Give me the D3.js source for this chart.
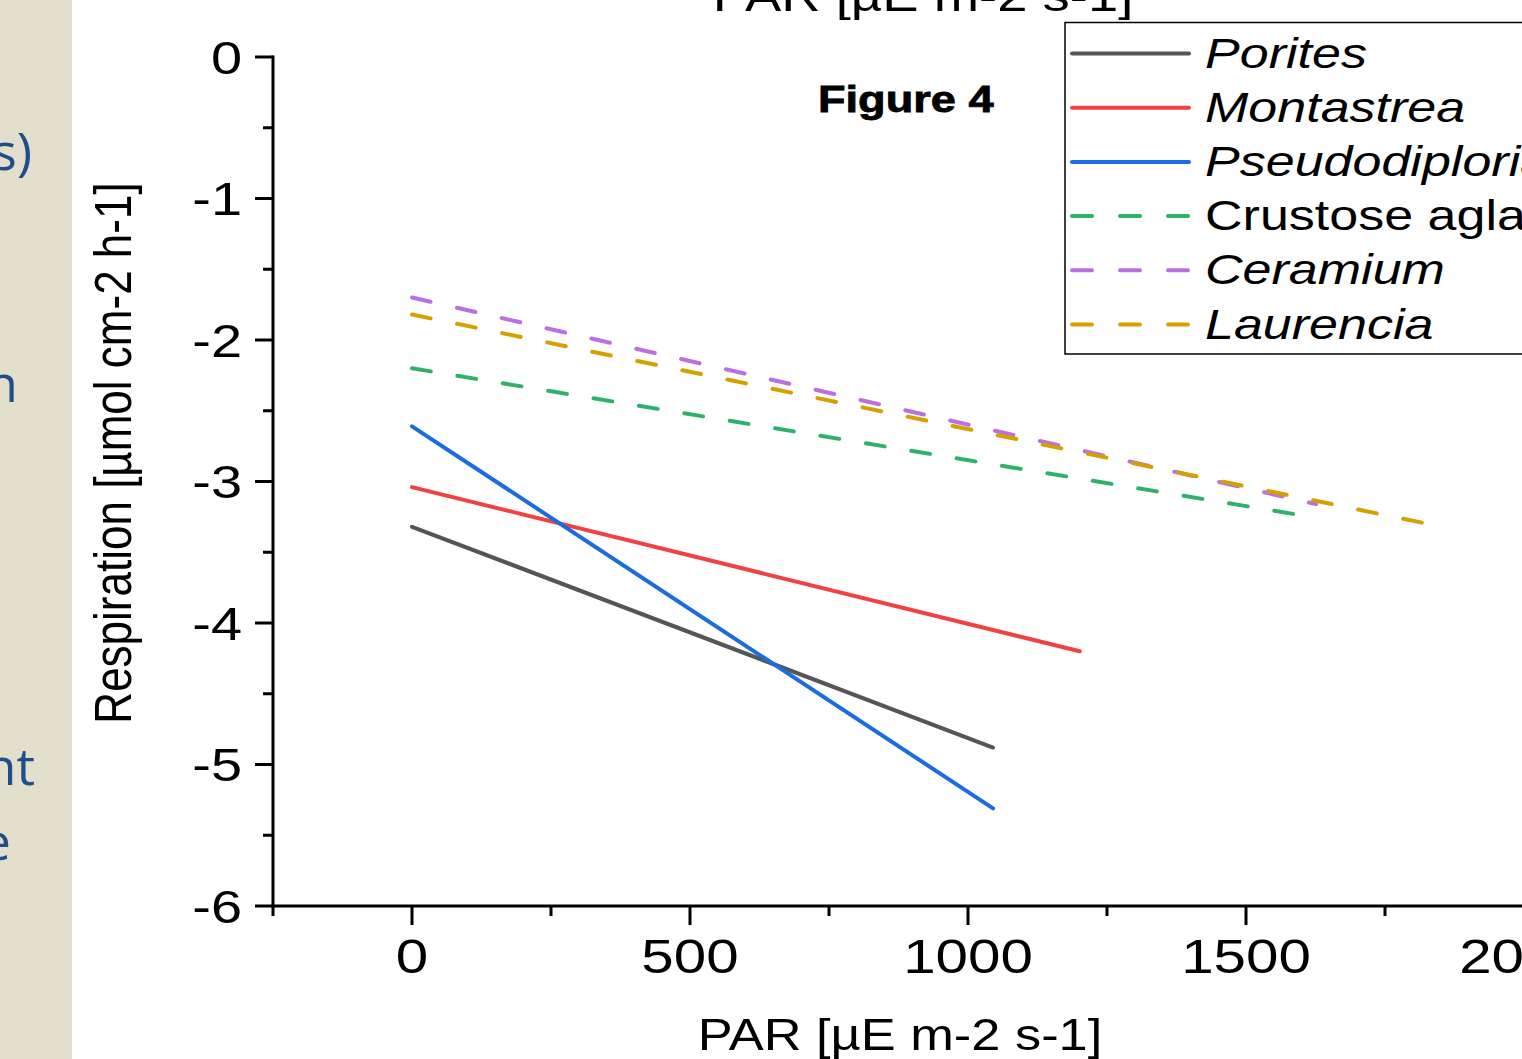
<!DOCTYPE html>
<html>
<head>
<meta charset="utf-8">
<script src="https://cdn.jsdelivr.net/npm/d3@7"></script>
<style>
  html, body { margin: 0; padding: 0; background: #ffffff; overflow: hidden; }
  svg { display: block; }
</style>
</head>
<body>
<svg id="chart" width="1522" height="1059"></svg>
<script>
// ---------------- data ----------------
const seriesNames = ["Porites", "Montastrea", "Pseudodiploria", "Crustose aglae", "Ceramium", "Laurencia"];
const seriesItalic = [true, true, true, false, true, true];
const seriesDashed = [false, false, false, true, true, true];
const seriesColors = ["#555555", "#f24141", "#1a6ce0", "#2eb26b", "#bb70e2", "#d5a100"];
// fitted lines: PAR (x) start/end and respiration (y) start/end
const parStart = [0, 0, 0, 0, 0, 0];
const parEnd = [1045, 1201, 1045, 1602, 1626, 1840];
const respStart = [-3.32, -3.04, -2.61, -2.20, -1.70, -1.82];
const respEnd = [-4.88, -4.20, -5.31, -3.24, -3.16, -3.31];

const xTicks = [0, 500, 1000, 1500, 2000];
const xMinorTicks = [-250, 250, 750, 1250, 1750, 2250];
const yTicks = [0, -1, -2, -3, -4, -5, -6];
const yMinorTicks = [-0.5, -1.5, -2.5, -3.5, -4.5, -5.5];

const xTitle = "PAR [\u00b5E m-2 s-1]";
const yTitle = "Respiration [\u00b5mol cm-2 h-1]";
const figLabel = "Figure 4";
const sideFragments = ["s)", "n", "nt", "e"];

// ---------------- layout ----------------
const svg = d3.select("#chart");
const W = 1522, H = 1059;
const x = d3.scaleLinear().domain([-250, 2250]).range([273, 1663]);
const y = d3.scaleLinear().domain([0, -6]).range([57, 906]);
const SX = 1.19; // horizontal stretch of the original picture's text

svg.append("rect").attr("x", 0).attr("y", 0).attr("width", W).attr("height", H).attr("fill", "#ffffff");

// left slide panel
svg.append("rect").attr("x", 0).attr("y", 0).attr("width", 72).attr("height", H).attr("fill", "#e2dfcd");
const fragPos = [[32, 170], [18, 402], [35, 785], [11, 860]];
sideFragments.forEach((t, i) => {
  svg.append("text")
    .attr("x", fragPos[i][0]).attr("y", fragPos[i][1])
    .attr("text-anchor", "end")
    .attr("font-family", "'Open Sans', 'Noto Sans', sans-serif")
    .attr("font-size", 52)
    .attr("fill", "#1f4e8a")
    .text(t);
});

function sText(txt, tx, ty, size, anchor, opts = {}) {
  const g = svg.append("g").attr("transform", `translate(${tx},${ty}) scale(${opts.sx || SX},1)` + (opts.rotate ? ` rotate(${opts.rotate})` : ""));
  const t = g.append("text")
    .attr("x", 0).attr("y", 0)
    .attr("text-anchor", anchor)
    .attr("font-family", "'Liberation Sans', Arial, sans-serif")
    .attr("font-size", size)
    .attr("font-style", opts.italic ? "italic" : "normal")
    .attr("font-weight", opts.bold ? "bold" : "normal")
    .attr("fill", "#000")
    .text(txt);
  if (opts.stroke) t.attr("stroke", "#000").attr("stroke-width", opts.stroke);
  return g;
}

// top (cut) title
sText(xTitle, 923, 11, 45, "middle", { sx: 1.21 });

// ---------------- axes ----------------
const axisG = svg.append("g");
axisG.append("line").attr("x1", x(-250)).attr("x2", x(-250)).attr("y1", y(0) - 1.5).attr("y2", y(-6) + 1.5)
  .attr("stroke", "#000").attr("stroke-width", 3);
axisG.append("line").attr("x1", x(-250) - 1.5).attr("x2", x(2250)).attr("y1", y(-6)).attr("y2", y(-6))
  .attr("stroke", "#000").attr("stroke-width", 3);

yTicks.forEach(v => {
  axisG.append("line").attr("x1", x(-250) - 18).attr("x2", x(-250)).attr("y1", y(v)).attr("y2", y(v))
    .attr("stroke", "#000").attr("stroke-width", 3);
  sText(String(v), 242, y(v) + 16.5, 47, "end");
});
yMinorTicks.forEach(v => {
  axisG.append("line").attr("x1", x(-250) - 10).attr("x2", x(-250)).attr("y1", y(v)).attr("y2", y(v))
    .attr("stroke", "#000").attr("stroke-width", 3);
});
xTicks.forEach(v => {
  axisG.append("line").attr("x1", x(v)).attr("x2", x(v)).attr("y1", y(-6)).attr("y2", y(-6) + 19)
    .attr("stroke", "#000").attr("stroke-width", 3);
  sText(String(v), x(v), 973, 49, "middle");
});
xMinorTicks.forEach(v => {
  axisG.append("line").attr("x1", x(v)).attr("x2", x(v)).attr("y1", y(-6)).attr("y2", y(-6) + 10)
    .attr("stroke", "#000").attr("stroke-width", 3);
});

// axis titles
sText(xTitle, 900, 1050, 44, "middle");
sText(yTitle, 131, 453, 44, "middle", { rotate: -90 });

// ---------------- lines ----------------
const lineGen = d3.line().x(d => x(d[0])).y(d => y(d[1]));
seriesNames.forEach((name, i) => {
  const pts = [[parStart[i], respStart[i]], [parEnd[i], respEnd[i]]];
  svg.append("path")
    .datum(pts)
    .attr("d", lineGen)
    .attr("fill", "none")
    .attr("stroke", seriesColors[i])
    .attr("stroke-width", 4)
    .attr("stroke-linecap", "round")
    .attr("stroke-dasharray", seriesDashed[i] ? "19 27" : null);
});

// figure label
sText(figLabel, 818, 112, 37, "start", { bold: true, sx: 1.22, stroke: 0.8 });

// ---------------- legend ----------------
svg.append("rect").attr("x", 1065).attr("y", 22.5).attr("width", 500).attr("height", 331.5)
  .attr("fill", "#ffffff").attr("stroke", "#000").attr("stroke-width", 1.5);
seriesNames.forEach((name, i) => {
  const ly = 53.5 + i * 54.2;
  svg.append("line").attr("x1", 1072).attr("x2", 1189).attr("y1", ly).attr("y2", ly)
    .attr("stroke", seriesColors[i]).attr("stroke-width", 4).attr("stroke-linecap", "round")
    .attr("stroke-dasharray", seriesDashed[i] ? "20 28" : null);
  sText(name, 1205, ly + 14, 43, "start", { italic: seriesItalic[i], sx: 1.21 });
});
</script>
</body>
</html>
